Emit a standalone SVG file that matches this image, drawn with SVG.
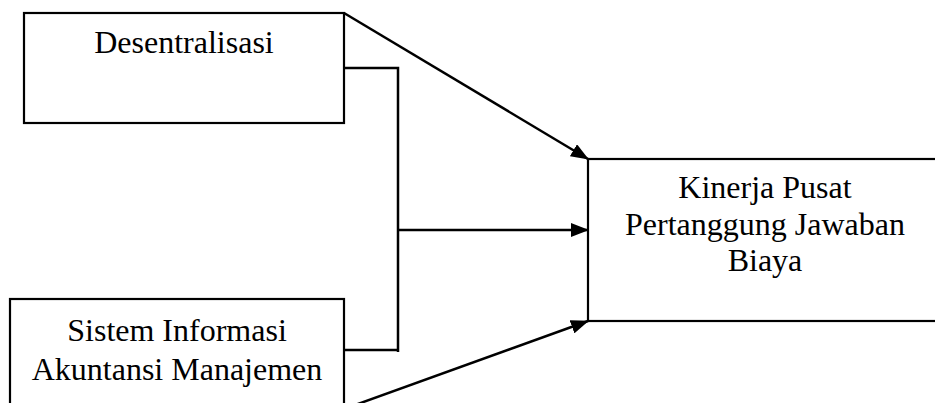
<svg xmlns="http://www.w3.org/2000/svg" width="935" height="403" viewBox="0 0 935 403">
<style>
.box{fill:#fff;stroke:#000;stroke-width:2.2}
.t{font-family:"Liberation Serif","Times New Roman",serif;font-size:32px;fill:#000;text-anchor:middle}
.c{fill:none;stroke:#000;stroke-width:2.5}
</style>
<defs>
<marker id="ah" markerUnits="userSpaceOnUse" markerWidth="18" markerHeight="14" refX="17" refY="7" orient="auto" viewBox="0 0 18 14">
<path d="M0,0 L18,7 L0,14 Z" fill="#000"/>
</marker>
</defs>
<rect width="935" height="403" fill="#fff"/>
<g id="connectors">
<line class="c" x1="344" y1="13" x2="588" y2="159" marker-end="url(#ah)"/>
<polyline class="c" points="344,68 398,68 398,352"/>
<line class="c" x1="344" y1="350" x2="398" y2="350"/>
<line class="c" x1="398" y1="230" x2="588" y2="230" marker-end="url(#ah)"/>
<line class="c" x1="344" y1="409" x2="588" y2="321" marker-end="url(#ah)"/>
</g>
<g id="desentralisasi">
<rect class="box" x="24" y="13" width="320" height="110"/>
<text class="t" x="184" y="53">Desentralisasi</text>
</g>
<g id="sim">
<rect class="box" x="10" y="299" width="334" height="120"/>
<text class="t" x="177" y="341">Sistem Informasi</text>
<text class="t" x="177" y="380">Akuntansi Manajemen</text>
</g>
<g id="kinerja">
<rect class="box" x="588" y="159" width="360" height="162"/>
<text class="t" x="765" y="198">Kinerja Pusat</text>
<text class="t" x="765" y="235">Pertanggung Jawaban</text>
<text class="t" x="765" y="271">Biaya</text>
</g>
</svg>
